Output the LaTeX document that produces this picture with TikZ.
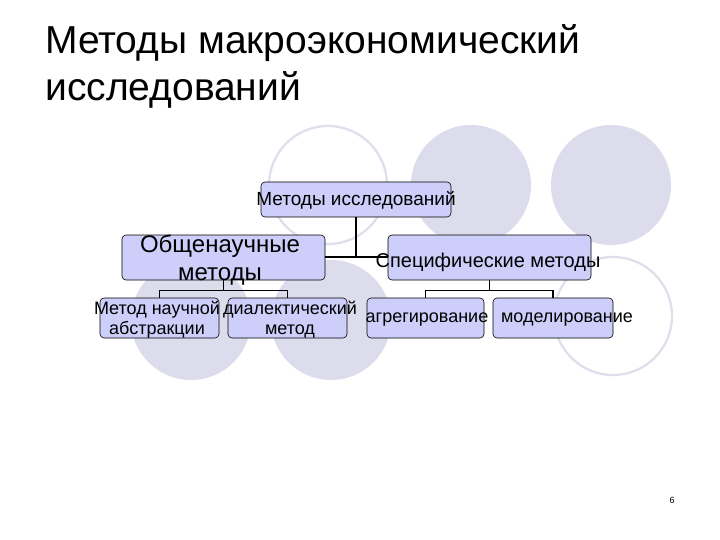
\documentclass[tikz,border=0pt]{standalone}
\usepackage{fontspec}
\setmainfont{Liberation Sans}
\begin{document}
\begin{tikzpicture}[x=1pt,y=-1pt,
  fc/.style={fill=circfill,draw=none},
  oc/.style={draw=circline,line width=2.2pt},
  box/.style={draw=black,fill=boxfill,rounded corners=4pt,inner sep=0pt,align=center,line width=0.6pt},
  conn/.style={line width=1.4pt}]
\definecolor{circfill}{RGB}{220,220,236}
\definecolor{circline}{RGB}{222,222,236}
\definecolor{boxfill}{RGB}{206,206,250}
\useasboundingbox (0,0) rectangle (720,540);
\fill[white] (0,0) rectangle (720,540);
% circles
\draw[oc] (328,185) circle (59);
\fill[fc] (471,185) circle (60);
\fill[fc] (611,185) circle (60);
\fill[fc] (191,320) circle (60);
\fill[fc] (331,320) circle (60);
\draw[oc] (613,316) circle (59);
% title
\node[anchor=north west,align=left,font=\fontsize{39}{47}\selectfont,inner sep=0pt] (title) at (45,24) {Методы макроэкономический\\исследований};
% boxes
\node[box,minimum width=190pt,minimum height=35pt] (top) at (356,199.5) {};
\node[font=\fontsize{19}{22}\selectfont,inner sep=0pt] (topt) at (356,200) {Методы исследований};
\node[box,minimum width=203pt,minimum height=45pt] (gen) at (223.5,257.5) {};
\node[align=center,font=\fontsize{24}{28}\selectfont,inner sep=0pt] (gent) at (220,260) {Общенаучные\\методы};
\node[box,minimum width=203pt,minimum height=45pt] (spec) at (489.5,257.5) {};
\node[font=\fontsize{20}{22}\selectfont,inner sep=0pt] (spect) at (488,262) {Специфические методы};
\node[box,minimum width=119pt,minimum height=40pt] (a1) at (159.5,318) {};
\node[align=center,font=\fontsize{18}{20}\selectfont,inner sep=0pt] (a1t) at (157,320) {Метод научной\\абстракции};
\node[box,minimum width=119pt,minimum height=40pt] (a2) at (287.5,318) {};
\node[align=center,font=\fontsize{18}{20}\selectfont,inner sep=0pt] (a2t) at (290,320) {диалектический\\метод};
\node[box,minimum width=117pt,minimum height=40pt] (b1) at (425.5,318) {};
\node[font=\fontsize{18}{19}\selectfont,inner sep=0pt] (b1t) at (427,320) {агрегирование};
\node[box,minimum width=120pt,minimum height=40pt] (b2) at (553,318) {};
\node[font=\fontsize{18}{19}\selectfont,inner sep=0pt] (b2t) at (567,320) {моделирование};
% connectors
\coordinate (j) at (356,257);
\draw[conn] (top.south) -- (j);
\draw[conn] (gen.east |- j) -- (spec.west |- j);
\draw[conn] (gen.south) -- ++(0,10) coordinate (g1);
\draw[conn] (a1.north) -- (a1.north |- g1) -- (a2.north |- g1) -- (a2.north);
\draw[conn] (spec.south) -- ++(0,10) coordinate (s1);
\draw[conn] (b1.north) -- (b1.north |- s1) -- (b2.north |- s1) -- (b2.north);
\node[font=\fontsize{9}{10}\selectfont] (pg) at (672,500) {6};
\end{tikzpicture}
\end{document}
